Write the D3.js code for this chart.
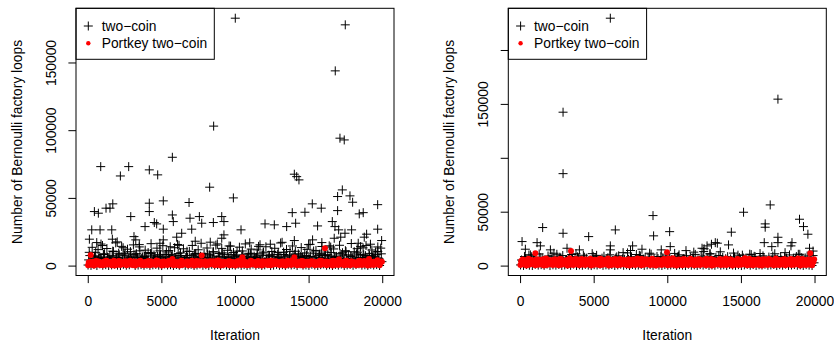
<!DOCTYPE html>
<html>
<head>
<meta charset="utf-8">
<script src="https://cdn.jsdelivr.net/npm/d3@7"></script>
<style>
  body { margin: 0; background: #fff; }
  svg { display: block; font-family: "Liberation Sans", Arial, Helvetica, sans-serif; }
</style>
</head>
<body>
<div id="chart"></div>
<script>
// x axis and y axis ticks
const xTicks = [0, 5000, 10000, 15000, 20000];
const leftYTicks = [0, 50000, 100000, 150000];
const leftYLabels = ["0", "50000", "100000", "150000"];
const rightYTicks = [0, 50000, 100000, 150000, 200000];
const rightYLabels = ["0", "50000", "", "150000", ""];   // R drops overlapping labels

// ---- left panel ----
// dense band, each array spread evenly over the 20000 iterations
const leftLow = [420,150,880,60,1300,240,700,90,510,1100,330,45,960,280,620,1450,80,390,740,200,1020,130,560,870,310,40,1230,470,690,95,810,260,1380,170,540,930,70,450,1150,220,650,30,990,380,760,140,1280,500,85,620,300,1060,180,720,55,430,1190,270,840,110,580,1410,35,350,910,230,680,120,1040,460,790,65,1330,290,560,150,980,410,75,720,1210,250,640,100,870,360,1120,50,530,940,190,760,1300,320,600,140,1010,440,820,70];
const leftMid1 = [4200,2600,6800,3100,5400,8200,2900,4700,7300,3600,5900,2300,8600,4100,6200,3300,7700,2800,5100,6600,3900,8900,4500,2500,7100,5600,3400,6300,8100,2700,4900,7400,3200,6000,2400,5300,8500,3700,6900,4400,2900,7900,5000,3500,6500,2200,8300,4600,5800,3000,7200,4000,6700,2600,5500,8700,3800,6100,4300,7600,2800,5200,3600,8000,4800,6400,2500,7000,3300,5700,8400,4100,6600,3100,7500,4900,2700,6200,3900,8800,5400,4500,7100,3400,6000,2300,7800,5100,3700,6800,4200,8600,2900,5600,7300,3500,6300,4700,8100,3000];
const leftMid2 = [9800,13500,7200,11800,15900,8400,12600,6900,10700,16800,9100,14200,7600,12100,10300,15300,8800,13800,6500,11400,9600,16200,7900,12900,10900,14700,8200,11100,6700,13200,15600,9400,12400,7400,10500,14900,8600,11700,16500,9000,13000,7100,10100,15100,8900,12700,6300,11300,14400,9700,7800,13600,10800,16000,8500,12200,7000,11600,15400,9300,13900,7700,10400,12800,8300,16700,9900,11900,7300,14500,10600,8700,13300,6600,12000,15700,9200,11200,7500,14100,10000,8100,13700,12300,6800,15000,9500,11000,7900,16300,10200,12500,8000,13100,14800,9000,11500,6400,10400,12900];
const leftMid3 = [7400,3900,9800,5200,4400,8700,6100,3300,10400,5600,7900,4700,9200,3600,6500,8300,4100,10900,5900,7100,3500,9500,4900,6800,8000,3200,10100,5400,7600,4300,8900,6300,3800,10600,5000,7300,9000,4600,6000,3400,8500,5700,10200,4000,7000,9400,3700,6400,8100,5100,10700,4500,7800,3100,9100,6200,5300,8600,3900,10000,4800,7200,6600,3500,9700,5500,8200,4200,10500,6900,3300,7700,5800,9300,4400,6700,10800,3600,8400,5000,7500,4100,9600,6300,3800,8800,5200,10300,4700,7100,3400,9900,6000,8000,4300,7400,5600,10100,3900,8700];
const leftMid4 = [3100,4800,2400,5900,3600,2100,5200,4100,2800,6300,3400,4600,2200,5500,3900,2600,6100,4300,3000,5000,2300,4400,5800,2900,3700,6400,2500,4900,3300,5600,2000,4200,3800,6000,2700,5300,3500,2100,4700,6200,3200,2600,5100,4000,2400,5700,3600,4500,2800,6500,3100,2200,5400,4300,3900,2500,6000,3400,4800,2900,5200,2300,4100,3700,5900,2700,4600,3300,2000,5500,4000,3000,6300,2400,5000,3500,4400,2600,5800,3200,2100,4900,3800,6100,2800,4200,3600,5300,2300,4700,3100,5600,2500,4500,3900,2200,6400,3400,5100,2900];
const leftOutliers = [
  [10020,182700],[17490,177800],[16810,143800],[8550,103000],[17130,94100],[17420,92800],
  [5745,80000],[880,73100],[2780,73100],[2215,66200],[4180,70700],[4750,67000],
  [14030,67500],[14190,65700],[14345,63300],[8280,57900],[17290,55900],[16970,51000],
  [17810,51500],[9890,50000],[17990,46800],[19690,45000],[15250,45600],[15860,42400],
  [5130,47800],[6880,46600],[4180,46100],[4180,39900],[1700,45600],[1510,42400],
  [1240,42400],[450,39900],[720,38700],[14750,39400],[13890,39100],[16970,40600],
  [18440,38200],[18710,39100],[2920,36200],[5745,37400],[5810,32500],[6945,35000],
  [7580,36200],[7740,31300],[9100,36200],[9250,32500],[8530,31800],[4520,31800],
  [4680,30800],[3890,28800],[7060,26900],[10410,26400],[12040,30800],[12670,30100],
  [13510,28800],[14120,31300],[15610,29300],[16610,32500],[16790,28800],[17040,26400],
  [17920,26400],[17470,23900],[17180,21000],[18940,23200],[18780,21000],[19690,26900],
  [270,26400],[835,26400],[1630,26400],[110,19500],[610,17000],[5130,26900],
  [6380,23900],[6040,21000],[9250,22700],[9100,20200],[3140,21400],[3260,19000],
  [5130,19000],[1670,19500],[8320,17300],[14030,18500],[15270,19000],[16740,20200],
  [19960,18500],[18370,16500],[18530,14000],[2000,17500],[3500,15500],[4900,16500],
  [6200,15000],[7300,18000],[8800,16000],[9600,14500],[11000,16800],[11600,14200],
  [12400,15800],[13200,17200],[15000,15500],[15900,17000],[16400,14600],[19200,15800],
  [19700,13800],[1000,14800],[2400,13200],[5600,13900]
];
const leftRedLow = [300,600,150,900,450,200,750,1000,350,80,650,500,1100,250,800,400,120,950,550,300,700,180,850,450,1050,60,600,380,920,240,700,130,500,1000,320,780,90,640,420,880,210,560,1150,340,720,160,480,990,270,610,100,830,440,720,190,560,1020,310,660,140,900,480,230,760,1080,370,540,70,810,430,960,260,620,150,870,390,1120,210,690,530,980,280,740,110,590,400,930,170,650,330,1040,220,580,460,820,120,710,360,950,250];
const leftRed = [2400,1800,3100,2200,1500,2900,3600,2000,2600,1400,3300,2100,2800,1700,3500,2300,1900,3000,2500,1300,3200,2700,1600,3700,2200,2900,1800,3400,2000,2600,1500,3100,2400,1900,2800,3500,1700,2300,3000,2100,1400,3300,2600,1800,3800,2200,2700,1600,3100,2400,2000,3400,1900,2900,1500,3600,2300,2800,1700,3200,2500,2100,3500,1800,2700,1400,3000,2200,2600,3700,1900,2400,3300,1600,2800,2000,3100,2500,1500,3400,2200,2900,1800,3600,2300,2700,1700,3200,2100,3000,2400,1900,3500,2600,1600,3300,2800,2000,3900,2500];
const leftRed2 = [1800,2600,1100,3000,1500,2200,900,2800,1900,1300,3200,2000,1000,2500,1600,2900,1200,2300,800,2700,1700,3100,1400,2100,950,2600,1850,1250,3000,2050,1550,2400,1050,2800,1650,2250,750,2950,1350,1950,2650,1150,3150,1750,2350,1450,2750,1000,2150,1600,3050,1300,2450,1900,850,2850,1500,2200,1700,2550,1100,3200,2000,1400,2700,1800,900,2400,1550,3100,1250,2100,1950,2600,1050,2900,1650,2300,1350,3000,1850,1150,2500,1500,2800,2050,950,2350,1750,3100,1450,2650,1200,2150,1900,2750,1600,2450,1000,2950];
const leftRed3 = [2900,2300,3400,2600,2100,3200,2800,2400,3500,2200,3000,2700,3300,2500,2000,3100,2900,3600,2300,2700,3200,2100,2800,3400,2500,3000,2200,3300,2600,2900,2400,3500,2100,3100,2700,2300,3400,2800,2000,3200,2500,3000,2600,3600,2200,2900,2400,3300,2700,2100,3100,2800,3500,2300,2600,3000,2200,3400,2500,2900,3200,2000,2700,3300,2400,3100,2600,3500,2300,2800,3000,2100,3400,2500,2900,3200,2200,2700,3600,2400,3100,2600,3300,2000,2800,3000,2300,3500,2500,2900,2100,3200,2700,3400,2400,3000,2600,3100,2200,2800];
const leftRedOutliers = [[200,7900],[7740,7400],[10500,6200],[14030,6200],[16110,12800],[5745,4900],[19100,4900],[17060,4700]];

// ---- right panel ----
const rightLow = [610,120,940,330,70,1210,480,860,200,1380,50,720,390,1050,160,580,990,260,1440,90,670,310,1120,450,30,830,560,1290,180,740,410,950,110,620,1340,280,790,60,1010,370,520,1180,140,690,880,240,1400,430,75,960,350,640,1100,190,820,500,40,1260,310,700,150,920,460,1070,85,590,270,1360,420,780,130,1030,560,210,880,45,680,1160,330,940,100,760,490,1230,260,620,1010,70,840,380,1320,170,560,990,290,720,120,900,430,60];
const rightMid = [5200,8400,3600,9900,6100,4300,10800,7200,3100,8900,5700,11500,4600,7800,9300,3800,6600,10300,5100,8100,2900,9600,6900,4100,11100,7500,5400,3400,8700,6300,10000,4800,7000,9100,3700,5900,11800,8200,4400,6700,9500,3200,7700,5300,10600,6000,8500,3900,7300,9800,4700,5600,11300,8000,3500,6400,9200,4900,7100,10400,3300,8800,5800,6800,10900,4200,7600,9400,5000,3600,8300,6200,11600,4500,7400,9700,3800,5500,10200,8600,4000,6500,9000,3100,7900,5200,11000,6100,8400,4600,7000,9900,3400,5800,10500,7300,4300,8900,6600,9300];
const rightMid2 = [4100,6700,2900,8200,5300,3400,7500,4800,2600,6100,8800,3800,5700,7000,3100,4500,8400,5900,2800,6500,4200,7800,3300,5100,8600,4700,2500,6900,3700,7300,5500,3000,8100,4400,6300,2700,5800,7700,3500,4900,8900,6000,3200,7100,4600,2400,6600,8300,3900,5400,7400,2900,5000,8700,4300,6200,3600,7900,5600,2600,4800,7200,3400,6800,8500,4000,5200,2800,7600,6400,3700,4500,8000,3100,5900,7000,4200,2500,6600,8200,3800,5500,7300,3300,4700,8800,6100,2700,5100,7800,4400,3500,6900,8400,3000,5700,7100,4000,6300,2600];
const rightOutliers = [
  [6130,229500],[17515,154400],[2920,142300],[2920,85300],[16990,56300],[15180,49500],
  [9030,46400],[18980,43000],[19250,36200],[16650,38700],[16650,35600],[1535,35300],
  [6470,33100],[10160,31500],[14350,31000],[2920,30000],[9070,27600],[19550,29100],
  [4660,26900],[17515,26300],[17515,21300],[135,22300],[1155,21300],[1380,18300],
  [18470,21300],[18400,18300],[16585,21300],[13260,21300],[12700,18300],[6130,18300],
  [6130,14600],[7645,18300],[14160,19200],[10200,17600],[17100,17600],[360,15200],
  [8280,15200],[9590,14600],[11270,13900],[3190,16100],[4030,14600],[2060,14600],
  [19660,16100],[12360,16100],[12470,13000],[600,9800],[2500,10500],[3800,11000],
  [5200,9500],[7000,12000],[7900,10300],[8800,11500],[10800,10000],[11800,12500],
  [12900,11000],[13600,12800],[14800,9700],[15600,10600],[16300,11200],[18000,12000],
  [19000,10500],[19900,13500],[13000,19800],[13400,20800],[12500,15600],[7500,14000]
];
const rightRedLow = [500,1200,200,900,1400,350,800,1100,150,650,1300,450,950,250,700,1250,100,850,550,1150,300,1000,600,1350,200,750,1050,400,900,1200,150,650,1000,350,800,1300,500,100,950,600,1150,250,700,1400,450,850,200,1050,550,1250,300,900,750,150,1100,400,1000,650,1350,250,800,500,1200,350,950,100,700,1150,450,850,600,1300,200,1000,550,750,1250,300,900,400,1100,650,150,1050,500,1350,250,800,600,950,350,1200,450,700,1150,200,850,550,1000,300];
const rightRed = [4300,3600,5100,4000,3300,5500,4700,3800,6200,4400,3500,5000,4100,5800,3700,4600,5300,3400,4900,6000,4200,3900,5600,4500,3600,5200,4800,6400,4000,3500,5400,4300,5900,3800,4700,5100,3300,4600,5700,4100,3700,6100,4400,5000,3900,5500,4200,3600,4800,5300,6600,4000,3700,5200,4500,5800,3800,4300,5000,3500,5600,4700,4100,6300,3900,5100,4400,3600,5400,4800,4200,5900,3700,4600,5200,4000,6800,4300,3800,5500,4900,3600,5000,4500,6100,4100,5300,3900,4700,5700,4200,3800,5100,4600,6500,4400,5000,3700,5600,4300];
const rightRed2 = [3200,4700,2500,5300,3800,2100,4400,5700,2900,3600,5000,2300,4200,5500,3100,2700,4900,3500,5800,2400,4000,5100,3300,2000,4600,5400,2800,3900,5200,2200,4300,3700,5600,2600,3400,4800,2900,5000,3600,2100,4500,5300,3000,3900,5700,2500,4100,3300,5100,2800,4400,3600,5500,2300,4700,3100,5000,2600,4200,5400,3800,2000,4600,3400,5200,2900,4000,5600,2700,3500,4900,2200,4300,5300,3200,3700,5800,2400,4500,3000,5100,3600,2800,4800,5500,2100,4100,3400,5000,2600,4400,3900,5700,2500,4600,3100,5200,2900,4000,3300];
const rightRed3 = [5600,4800,6300,5100,4400,6000,5300,4700,6600,5000,4500,5800,5400,6200,4600,5200,6900,4900,5700,4300,6100,5500,4800,6400,5100,4600,5900,5300,4400,6700,5000,5600,4700,6200,5400,4500,6000,5200,4900,6500,5700,4300,5800,5100,6300,4600,5500,4800,6100,5300,4400,6800,5000,5600,4700,5900,5200,6400,4500,5400,6000,4900,5700,4300,6200,5100,4600,5800,5500,6600,4800,5300,4400,6100,5000,5700,4700,6300,5200,4500,5900,5400,6000,4900,5600,4600,6500,5100,4300,5800,5300,6200,4800,5500,4400,6100,5000,5700,4700,5900];
const rightRedOutliers = [[1040,11500],[3460,13600],[9980,12400],[19710,11500]];

const W = 834, H = 343;
const svg = d3.select("#chart").append("svg").attr("width", W).attr("height", H);
svg.append("rect").attr("width", W).attr("height", H).attr("fill", "#fff");

const plusPath = "M-4.5,0H4.5M0,-4.5V4.5";
const fontSize = 13.8;

// band arrays: spread over the 20000 iterations, each array shifted a bit
function bandPoints(arrays) {
  const pts = [];
  arrays.forEach((vals, k) => {
    const step = 20000 / vals.length;
    vals.forEach((v, i) => pts.push([(i + (k + 0.5) / arrays.length) * step, v]));
  });
  return pts;
}

// R style: data range padded by 4% each side
function padded(lo, hi) {
  const d = hi - lo;
  return [lo - 0.04 * d, hi + 0.04 * d];
}

function drawPanel(offsetX, p) {
  const box = {left: 76 + offsetX, right: 394 + offsetX, top: 8.3, bottom: 275.5};
  const g = svg.append("g");

  const blackPts = bandPoints(p.black).concat(p.outliers);
  const redPts = bandPoints(p.reds).concat(p.redOutliers);

  const x = d3.scaleLinear().domain(padded(1, 20000)).range([box.left, box.right]);
  const yMax = d3.max(blackPts.concat(redPts), d => d[1]);
  const y = d3.scaleLinear().domain(padded(0, yMax)).range([box.bottom, box.top]);

  // two-coin (+)
  g.append("g").selectAll("path")
    .data(blackPts)
    .enter().append("path")
      .attr("d", plusPath)
      .attr("transform", d => "translate(" + x(d[0]) + "," + y(d[1]) + ")")
      .attr("fill", "none")
      .attr("stroke", "#000")
      .attr("stroke-width", 1);

  // Portkey two-coin (red dots)
  g.append("g").selectAll("circle")
    .data(redPts)
    .enter().append("circle")
      .attr("cx", d => x(d[0]))
      .attr("cy", d => y(d[1]))
      .attr("r", 3)
      .attr("fill", "#ff0000");

  // x axis
  const xAxis = g.append("g")
    .attr("transform", "translate(0," + box.bottom + ")")
    .call(d3.axisBottom(x).tickValues(xTicks).tickSize(7.6).tickPadding(13.2).tickFormat(d3.format("d")));
  xAxis.select(".domain").remove();
  xAxis.selectAll("line").attr("stroke", "#000");
  xAxis.selectAll("text").attr("font-size", fontSize).attr("fill", "#000").style("font-family", "inherit");

  // y axis
  const yAxis = g.append("g")
    .attr("transform", "translate(" + box.left + ",0)")
    .call(d3.axisLeft(y).tickValues(p.yTicks).tickSize(7.6).tickFormat((d, i) => p.yLabels[i]));
  yAxis.select(".domain").remove();
  yAxis.selectAll("line").attr("stroke", "#000");
  yAxis.selectAll("text")
    .attr("x", 0).attr("y", 0).attr("dy", null)
    .attr("text-anchor", "middle")
    .attr("dominant-baseline", "central")
    .attr("transform", "translate(-25,0) rotate(-90)")
    .attr("font-size", fontSize).attr("fill", "#000").style("font-family", "inherit");

  // plot box
  g.append("rect")
    .attr("x", box.left).attr("y", box.top)
    .attr("width", box.right - box.left).attr("height", box.bottom - box.top)
    .attr("fill", "none").attr("stroke", "#000").attr("stroke-width", 1);

  // axis titles
  g.append("text")
    .attr("x", (box.left + box.right) / 2).attr("y", 335.7)
    .attr("text-anchor", "middle").attr("dominant-baseline", "central")
    .attr("font-size", fontSize)
    .text("Iteration");
  g.append("text")
    .attr("transform", "translate(" + (17.3 + offsetX) + "," + ((box.top + box.bottom) / 2) + ") rotate(-90)")
    .attr("text-anchor", "middle").attr("dominant-baseline", "central")
    .attr("font-size", fontSize)
    .text("Number of Bernoulli factory loops");

  // legend (transparent, top left)
  const lg = g.append("g");
  lg.append("rect")
    .attr("x", box.left).attr("y", box.top)
    .attr("width", 138.3).attr("height", 51)
    .attr("fill", "none").attr("stroke", "#000").attr("stroke-width", 1);
  lg.append("path")
    .attr("d", plusPath)
    .attr("transform", "translate(" + (box.left + 12.3) + ",26)")
    .attr("stroke", "#000").attr("fill", "none");
  lg.append("circle")
    .attr("cx", box.left + 12.3).attr("cy", 43.3).attr("r", 2.2)
    .attr("fill", "#ff0000");
  lg.append("text")
    .attr("x", box.left + 25.7).attr("y", 26)
    .attr("dominant-baseline", "central").attr("font-size", fontSize)
    .text("two\u2212coin");
  lg.append("text")
    .attr("x", box.left + 25.7).attr("y", 43.3)
    .attr("dominant-baseline", "central").attr("font-size", fontSize)
    .text("Portkey two\u2212coin");
}

drawPanel(0, {
  black: [leftLow, leftMid1, leftMid2, leftMid3, leftMid4], outliers: leftOutliers,
  reds: [leftRedLow, leftRed, leftRed2, leftRed3], redOutliers: leftRedOutliers,
  yTicks: leftYTicks, yLabels: leftYLabels
});
drawPanel(432.3, {
  black: [rightLow, rightMid, rightMid2], outliers: rightOutliers,
  reds: [rightRedLow, rightRed, rightRed2, rightRed3], redOutliers: rightRedOutliers,
  yTicks: rightYTicks, yLabels: rightYLabels
});
</script>
</body>
</html>
